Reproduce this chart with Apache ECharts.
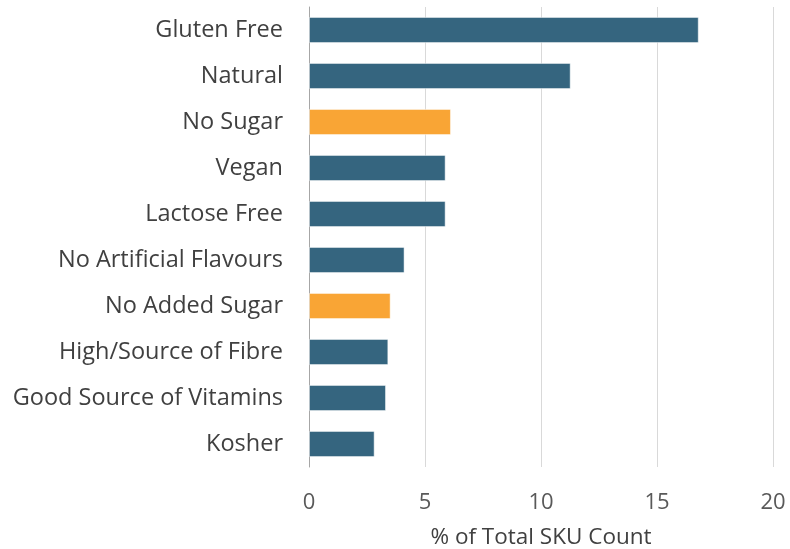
<!DOCTYPE html>
<html><head><meta charset="utf-8">
<script src="https://cdn.jsdelivr.net/npm/echarts@6/dist/echarts.min.js"></script>
<style>html,body{margin:0;padding:0;background:#fff}#c{width:790px;height:549px}</style>
</head><body><div id="c"></div>
<script>
const categories = ["Gluten Free","Natural","No Sugar","Vegan","Lactose Free","No Artificial Flavours","No Added Sugar","High/Source of Fibre","Good Source of Vitamins","Kosher"];
const values = [16.8, 11.28, 6.12, 5.89, 5.89, 4.12, 3.52, 3.42, 3.32, 2.83];
const highlighted = ["No Sugar","No Added Sugar"];
const xTicks = [0,5,10,15,20];
const xTitle = "% of Total SKU Count";

const BLUE = "#35657F", ORANGE = "#F9A535";
const FONT = 'Open Sans';
const chart = echarts.init(document.getElementById('c'));
chart.setOption({
  animation:false,
  grid:{left:309,right:17,top:7,bottom:82,containLabel:false,outerBoundsMode:'none'},
  xAxis:{type:'value',min:xTicks[0],max:xTicks[xTicks.length-1],interval:5,
    name:xTitle,nameLocation:'middle',nameGap:59,
    nameTextStyle:{fontFamily:FONT,fontSize:22.5,color:'#404040'},
    axisLine:{show:false},axisTick:{show:false},
    axisLabel:{fontFamily:FONT,fontSize:22,color:'#595959',margin:25},
    splitLine:{lineStyle:{color:'#d9d9d9',width:1}}},
  yAxis:{type:'category',data:categories,inverse:true,
    axisLine:{lineStyle:{color:'#a6a6a6',width:1}},axisTick:{show:false},
    axisLabel:{fontFamily:FONT,fontSize:23.5,color:'#404040',margin:26}},
  series:[{type:'bar',barCategoryGap:'43%',
    data:values.map((v,i)=>({value:v,itemStyle:{color:highlighted.includes(categories[i])?ORANGE:BLUE}})),
    itemStyle:{borderColor:'rgba(255,255,255,0.5)',borderWidth:1}}]
});
</script></body></html>
